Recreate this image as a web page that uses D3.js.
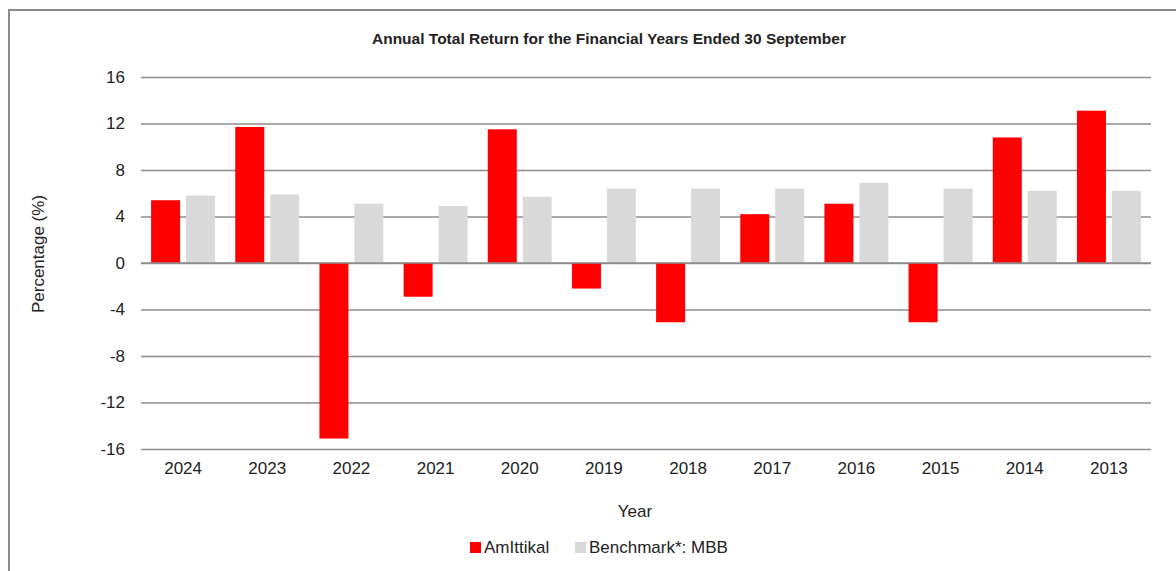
<!DOCTYPE html>
<html>
<head>
<meta charset="utf-8">
<script src="https://cdn.jsdelivr.net/npm/d3@7"></script>
<style>
  body { margin: 0; background: #fff; }
  text { font-family: "Liberation Sans", Arial, sans-serif; fill: #222; }
</style>
</head>
<body>
<script>
var width = 1176;
var height = 571;

// data
var years = ["2024", "2023", "2022", "2021", "2020", "2019", "2018", "2017", "2016", "2015", "2014", "2013"];
var amIttikal = [5.4, 11.7, -15.1, -2.9, 11.5, -2.2, -5.1, 4.2, 5.1, -5.1, 10.8, 13.1];
var benchmark = [5.8, 5.9, 5.1, 4.9, 5.7, 6.4, 6.4, 6.4, 6.9, 6.4, 6.2, 6.2];
var seriesNames = ["AmIttikal", "Benchmark*: MBB"];
var seriesColors = ["#ff0000", "#d9d9d9"];
var yTicks = [-16, -12, -8, -4, 0, 4, 8, 12, 16];

var rows = years.map(function (y, i) {
  return { year: y, values: [amIttikal[i], benchmark[i]] };
});

var svg = d3.select('body').append('svg').attr('width', width).attr('height', height);

// outer frame
svg.append("rect")
  .attr("x", 9).attr("y", 10)
  .attr("width", width).attr("height", height)
  .attr("fill", "none").attr("stroke", "#8a8a8a").attr("stroke-width", 2);

var plotLeft = 141, plotRight = 1151, plotTop = 77, plotBottom = 449;

var x0 = d3.scaleBand().domain(years).range([plotLeft, plotRight])
  .paddingInner(0.24).paddingOuter(0.12);
var x1 = d3.scaleBand().domain([0, 1]).range([0, x0.bandwidth()]).paddingInner(0.17);
var y = d3.scaleLinear().domain([-16, 16]).range([plotBottom, plotTop]);

// gridlines + y labels (plain hyphen for negatives, like the original)
var yAxis = d3.axisLeft(y).tickValues(yTicks)
  .tickFormat(function (d) { return String(d); })
  .tickSize(-(plotRight - plotLeft)).tickPadding(16);
var gy = svg.append("g").attr("transform", "translate(" + plotLeft + ",0)").call(yAxis);
gy.select(".domain").remove();
gy.selectAll(".tick line").attr("stroke", "#8c8c8c").attr("stroke-width", 1.6);
gy.selectAll(".tick text").style("font-size", "17px").attr("fill", "#222")
  .style("font-family", '"Liberation Sans", Arial, sans-serif');

// bars
var groups = svg.append("g").selectAll("g")
  .data(rows).enter().append("g")
  .attr("transform", function (d) { return "translate(" + x0(d.year) + ",0)"; });

groups.selectAll("rect")
  .data(function (d) { return d.values.map(function (v, i) { return { v: v, i: i }; }); })
  .enter().append("rect")
  .attr("x", function (d) { return x1(d.i); })
  .attr("width", x1.bandwidth())
  .attr("y", function (d) { return y(Math.max(0, d.v)); })
  .attr("height", function (d) { return Math.abs(y(d.v) - y(0)); })
  .attr("fill", function (d) { return seriesColors[d.i]; });

// redraw zero line over bars
svg.append("line")
  .attr("x1", plotLeft).attr("x2", plotRight)
  .attr("y1", y(0)).attr("y2", y(0))
  .attr("stroke", "#8c8c8c").attr("stroke-width", 1.6);

// x labels
var xAxis = d3.axisBottom(x0).tickSize(0).tickPadding(13);
var gx = svg.append("g").attr("transform", "translate(0," + plotBottom + ")").call(xAxis);
gx.select(".domain").remove();
gx.selectAll(".tick text").style("font-size", "17px").attr("fill", "#222")
  .style("font-family", '"Liberation Sans", Arial, sans-serif');

// title
svg.append("text")
  .attr("x", 609).attr("y", 44)
  .attr("text-anchor", "middle")
  .style("font-size", "15.5px").style("font-weight", "bold")
  .text("Annual Total Return for the Financial Years Ended 30 September");

// axis titles
svg.append("text")
  .attr("x", 635).attr("y", 517)
  .attr("text-anchor", "middle").style("font-size", "17px")
  .text("Year");

svg.append("text")
  .attr("transform", "translate(44,254) rotate(-90)")
  .attr("text-anchor", "middle").style("font-size", "17px")
  .text("Percentage (%)");

// legend
var legendX = [470, 575];
var legend = svg.append("g").selectAll("g")
  .data(seriesNames).enter().append("g")
  .attr("transform", function (d, i) { return "translate(" + legendX[i] + ",542)"; });
legend.append("rect")
  .attr("width", 11).attr("height", 11)
  .attr("fill", function (d, i) { return seriesColors[i]; });
legend.append("text")
  .attr("x", 14).attr("y", 11)
  .style("font-size", "17px")
  .text(function (d) { return d; });
</script>
</body>
</html>
